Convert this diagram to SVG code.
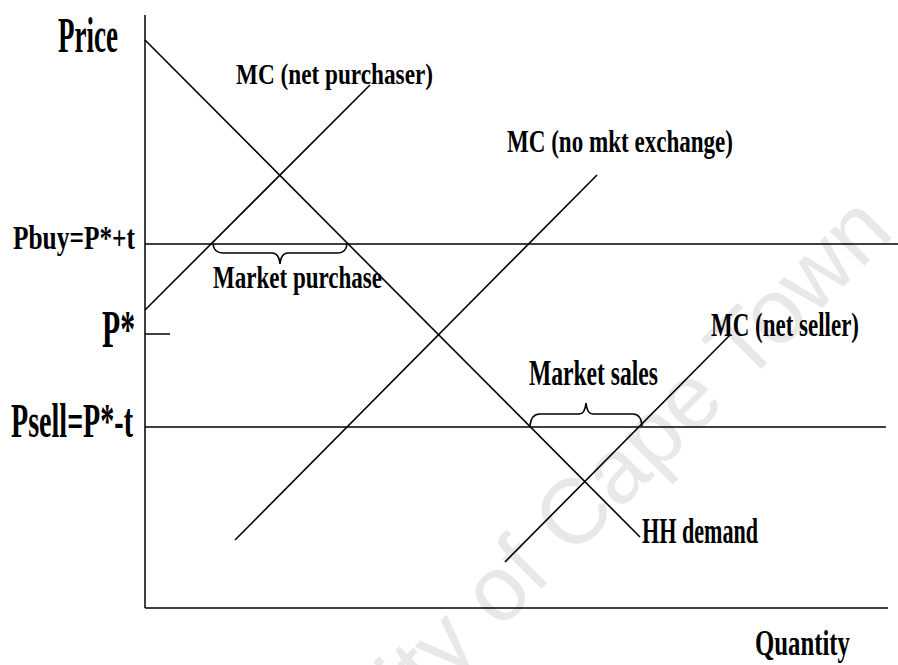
<svg xmlns="http://www.w3.org/2000/svg" width="898" height="665" viewBox="0 0 898 665">
  <style>
    .ln { stroke: #000; stroke-width: 1.6; fill: none; stroke-linecap: butt; }
    .ax { stroke: #000; stroke-width: 1.5; fill: none; }
    .lbl { font-family: "Liberation Serif", "DejaVu Serif", serif; font-weight: bold; fill: #000; }
    .wm { font-family: "Liberation Sans", Arial, sans-serif; fill: #e8e8e8; font-size: 92px; }
  </style>
  <rect width="898" height="665" fill="#fff"/>
  <g id="watermark">
    <text class="wm" text-anchor="end" transform="translate(896,234) rotate(-45)">University of Cape Town</text>
  </g>
  <g id="axes">
    <line class="ax" x1="145" y1="15" x2="145" y2="608"/>
    <line class="ax" x1="145" y1="608" x2="888" y2="608"/>
    <line class="ax" x1="145" y1="334" x2="170" y2="334"/>
  </g>
  <g id="connectors">
    <line id="pbuy-line" class="ln" x1="145" y1="244" x2="898" y2="244"/>
    <line id="psell-line" class="ln" x1="145" y1="427" x2="886" y2="427"/>
    <line id="demand" class="ln" x1="145" y1="40" x2="640" y2="537"/>
    <line id="mc-purchaser" class="ln" x1="145" y1="310" x2="370" y2="85"/>
    <line id="mc-nomkt" class="ln" x1="235" y1="540" x2="597" y2="175"/>
    <line id="mc-seller" class="ln" x1="505" y1="562" x2="730" y2="335"/>
    <path id="brace-purchase" class="ln" d="M213,244 Q214,253 223,253 L272,253 Q279,253 280,264 Q281,253 288,253 L338,253 Q346,253 347,244"/>
    <path id="brace-sales" class="ln" d="M530,426 Q531,414 540,414 L579,414 Q585,414 586,403 Q587,414 593,414 L633,414 Q641,414 642,426"/>
  </g>
  <g id="label-price"><text class="lbl" x="58" y="52" font-size="50" textLength="60" lengthAdjust="spacingAndGlyphs">Price</text></g>
  <g id="label-mc-purchaser"><text class="lbl" x="236" y="84" font-size="30" textLength="197" lengthAdjust="spacingAndGlyphs">MC (net purchaser)</text></g>
  <g id="label-mc-nomkt"><text class="lbl" x="507" y="152" font-size="32" textLength="226" lengthAdjust="spacingAndGlyphs">MC (no mkt exchange)</text></g>
  <g id="label-pbuy"><text class="lbl" x="13" y="249" font-size="34" textLength="122" lengthAdjust="spacingAndGlyphs">Pbuy=P*+t</text></g>
  <g id="label-market-purchase"><text class="lbl" x="213" y="288" font-size="32" textLength="169" lengthAdjust="spacingAndGlyphs">Market purchase</text></g>
  <g id="label-pstar"><text class="lbl" x="102" y="347" font-size="52" textLength="33" lengthAdjust="spacingAndGlyphs">P*</text></g>
  <g id="label-mc-seller"><text class="lbl" x="711" y="336" font-size="33" textLength="148" lengthAdjust="spacingAndGlyphs">MC (net seller)</text></g>
  <g id="label-market-sales"><text class="lbl" x="529" y="385" font-size="35" textLength="129" lengthAdjust="spacingAndGlyphs">Market sales</text></g>
  <g id="label-psell"><text class="lbl" x="11" y="437" font-size="48" textLength="122" lengthAdjust="spacingAndGlyphs">Psell=P*-t</text></g>
  <g id="label-demand"><text class="lbl" x="642" y="543" font-size="36" textLength="116" lengthAdjust="spacingAndGlyphs">HH demand</text></g>
  <g id="label-quantity"><text class="lbl" x="755" y="655" font-size="35" textLength="95" lengthAdjust="spacingAndGlyphs">Quantity</text></g>
</svg>
